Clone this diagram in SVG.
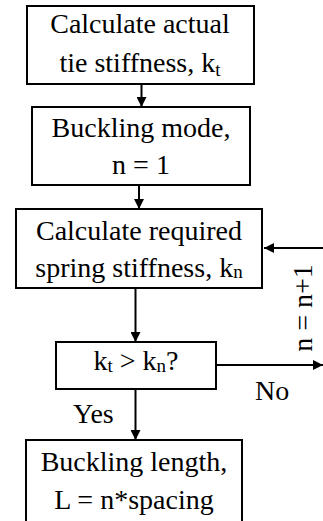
<svg xmlns="http://www.w3.org/2000/svg" width="323" height="521" viewBox="0 0 323 521" font-family="'Liberation Serif', 'DejaVu Serif', serif" font-size="28">
  <style>
    .box { fill: #fff; stroke: #000; stroke-width: 2; }
    .lbl { text-anchor: middle; }
    .sub { font-size: 19px; }
    .wire { fill: none; stroke: #000; stroke-width: 2; }
  </style>
  <defs>
    <marker id="arrow" viewBox="0 0 10 10" refX="10" refY="5" markerWidth="5" markerHeight="5" orient="auto" markerUnits="strokeWidth">
      <path d="M0,0 L10,5 L0,10 Z" fill="#000"/>
    </marker>
  </defs>

  <g id="connectors">
    <line class="wire" x1="141.5" y1="84" x2="141.5" y2="107" marker-end="url(#arrow)"/>
    <line class="wire" x1="139" y1="185" x2="139" y2="209" marker-end="url(#arrow)"/>
    <line class="wire" x1="135.5" y1="288" x2="135.5" y2="342" marker-end="url(#arrow)"/>
    <line class="wire" x1="135.5" y1="389" x2="135.5" y2="440" marker-end="url(#arrow)"/>
    <line class="wire" x1="216" y1="365" x2="323" y2="365" marker-end="url(#arrow)"/>
    <line class="wire" x1="325" y1="248" x2="264" y2="248" marker-end="url(#arrow)"/>
    <text x="255" y="400" font-family="Liberation Serif">No</text>
    <text x="73" y="423" font-family="Liberation Serif">Yes</text>
    <text class="lbl" transform="translate(312,308) rotate(-90)">n = n+1</text>
  </g>

  <g id="tie-stiffness">
    <rect class="box" x="27" y="6" width="227" height="78"/>
    <text class="lbl" x="140" y="33">Calculate actual</text>
    <text class="lbl" x="140" y="72">tie stiffness, k<tspan class="sub" dy="4">t</tspan></text>
  </g>

  <g id="buckling-mode">
    <rect class="box" x="32" y="107" width="218" height="78"/>
    <text class="lbl" x="141" y="137">Buckling mode,</text>
    <text class="lbl" x="141" y="174">n = 1</text>
  </g>

  <g id="required-stiffness">
    <rect class="box" x="16" y="209" width="246" height="79"/>
    <text class="lbl" x="139" y="240">Calculate required</text>
    <text class="lbl" x="139" y="277">spring stiffness, k<tspan class="sub" dy="1">n</tspan></text>
  </g>

  <g id="check">
    <rect class="box" x="56" y="342" width="160" height="47"/>
    <text class="lbl" x="136" y="370">k<tspan class="sub" dy="2">t</tspan><tspan dy="-2"> &gt; k</tspan><tspan class="sub" dy="2">n</tspan><tspan dy="-2">?</tspan></text>
  </g>

  <g id="buckling-length">
    <rect class="box" x="26" y="440" width="216" height="90"/>
    <text class="lbl" x="134" y="471">Buckling length,</text>
    <text class="lbl" x="134" y="509">L = n*spacing</text>
  </g>
</svg>
